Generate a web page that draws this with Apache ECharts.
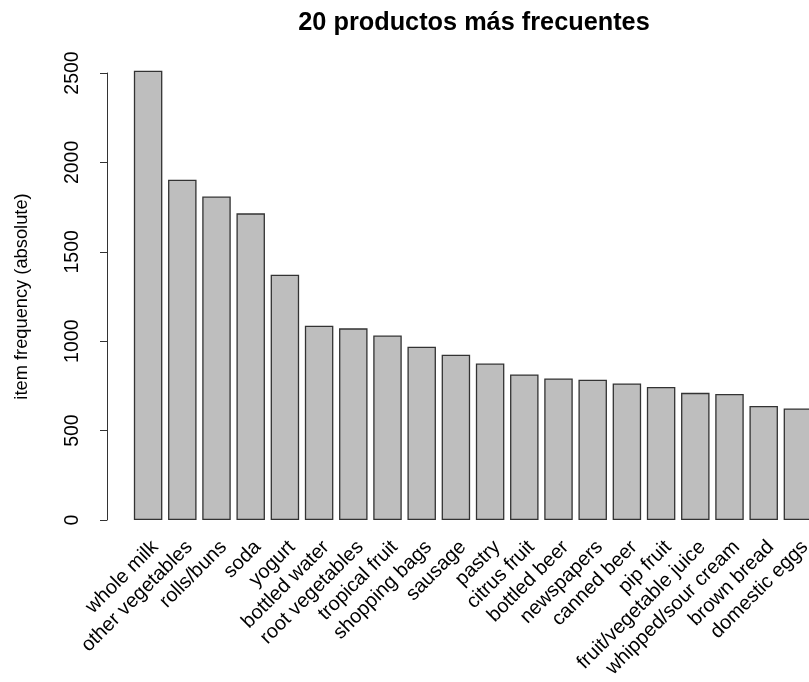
<!DOCTYPE html>
<html>
<head>
<meta charset="utf-8">
<script src="https://cdn.jsdelivr.net/npm/echarts@6/dist/echarts.min.js"></script>
<style>html,body{margin:0;padding:0;background:#fff}#c{width:809px;height:682px}</style>
</head>
<body>
<div id="c"></div>
<script>
var categories = ["whole milk","other vegetables","rolls/buns","soda","yogurt","bottled water","root vegetables","tropical fruit","shopping bags","sausage","pastry","citrus fruit","bottled beer","newspapers","canned beer","pip fruit","fruit/vegetable juice","whipped/sour cream","brown bread","domestic eggs"];
var frequencies = [2513,1903,1809,1715,1372,1087,1072,1032,969,924,875,814,792,785,764,744,711,705,638,624];
var yTicks = [0,500,1000,1500,2000,2500];
var titleText = "20 productos más frecuentes";
var yName = "item frequency (absolute)";

var font = "Liberation Sans, Arial, Helvetica, sans-serif";
var chart = echarts.init(document.getElementById('c'));
chart.setOption({
  animation: false,
  title: {
    text: titleText, left: 469, top: 6, textAlign: 'center',
    textStyle: {fontFamily: font, fontSize: 25.3, fontWeight: 'bold', color: '#000'}
  },
  grid: {left: 131, width: 684, top: 73, bottom: 162, containLabel: false, outerBoundsMode: 'none'},
  xAxis: {
    type: 'category', data: categories,
    axisLine: {show: false}, axisTick: {show: false},
    axisLabel: {rotate: 45, interval: 0, margin: 17, align: 'right', verticalAlign: 'top',
      fontFamily: font, fontSize: 20, color: '#000'}
  },
  yAxis: {
    type: 'value', min: yTicks[0], max: yTicks[yTicks.length - 1], interval: 500,
    offset: 24,
    name: yName, nameLocation: 'middle', nameRotate: 90, nameGap: 76,
    nameTextStyle: {fontFamily: font, fontSize: 18.3, color: '#000'},
    splitLine: {show: false},
    axisLine: {show: true, lineStyle: {color: '#333', width: 1}},
    axisTick: {show: true, length: 7, lineStyle: {color: '#333'}},
    axisLabel: {rotate: 90, margin: 24, fontFamily: font, fontSize: 19.5, color: '#000',
      formatter: function (v) { return String(v); }}
  },
  series: [{
    type: 'bar', data: frequencies, clip: false,
    barCategoryGap: '16.7%',
    itemStyle: {color: '#bebebe', borderColor: '#333', borderWidth: 1.3}
  }]
});
</script>
</body>
</html>
